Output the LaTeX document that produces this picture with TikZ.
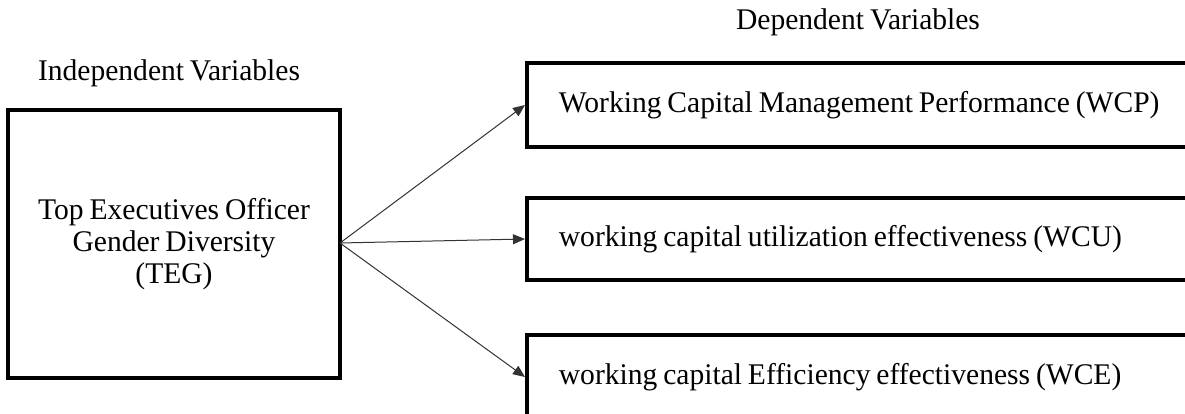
\documentclass[tikz,border=0pt]{standalone}
\usepackage{fontspec}
\setmainfont{Liberation Serif}[FakeStretch=0.985, WordSpace=0.8]
\usetikzlibrary{arrows.meta}
\tikzset{
  x=1pt,y=1pt,
  txt/.style={font=\fontsize{30}{32}\selectfont, inner sep=0pt},
  ivbox/.style={draw=black, line width=4pt, minimum width=332pt, minimum height=268pt,
    align=center, font=\fontsize{30}{32}\selectfont},
  dvbox/.style={draw=black, line width=3.8pt, anchor=west, inner xsep=32pt,
    minimum height=84pt, font=\fontsize{30}{32}\selectfont}
}
\tikzset{link/.style={draw=black!80, line width=1pt, -{Triangle[length=12pt,width=10pt]}}}
\newcommand{\dvtext}[1]{\raisebox{-2.5pt}{\makebox[630pt][l]{#1}}}
\begin{document}
\begin{tikzpicture}
\useasboundingbox (0,0) rectangle (1185,-414);
\clip (0,0) rectangle (1185,-414);
\fill[white] (0,0) rectangle (1185,-414);
\node[txt] (ivlab) at (169,-73) {Independent Variables};
\node[txt] (dvlab) at (858,-22) {Dependent Variables};
\node[ivbox] (teg) at (174,-244) {Top Executives Officer\\Gender Diversity\\(TEG)};
\node[dvbox] (wcp) at (525,-105) {\dvtext{Working Capital Management Performance (WCP)}};
\node[dvbox, minimum height=82pt] (wcu) at (525,-239) {\dvtext{working capital utilization effectiveness (WCU)}};
\node[dvbox] (wce) at (525,-377) {\dvtext{working capital Efficiency effectiveness (WCE)}};
\coordinate (src) at (340,-243);
\draw[link] (src) -- (wcp.west);
\draw[link] (src) -- (wcu.west);
\draw[link] (src) -- (wce.west);
\end{tikzpicture}
\end{document}
